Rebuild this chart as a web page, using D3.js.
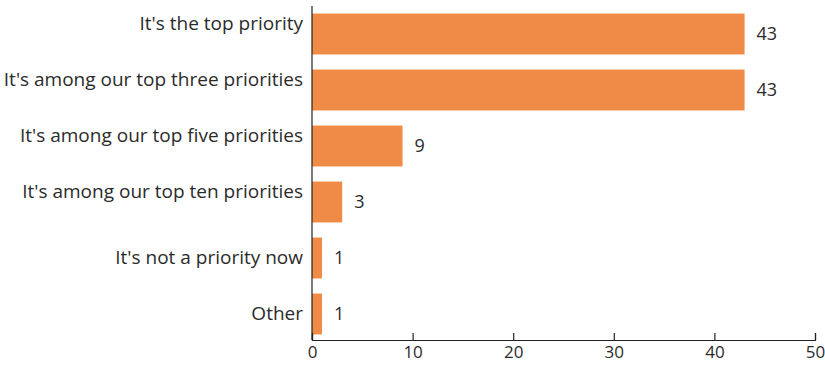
<!DOCTYPE html>
<html>
<head>
<meta charset="utf-8">
<script src="https://cdn.jsdelivr.net/npm/d3@7"></script>
<style>
  body { margin: 0; background: #fff; }
  text { font-family: "Open Sans", sans-serif; fill: #2b2b2b; }
</style>
</head>
<body>
<div id="chart"></div>
<script>
// data
const categories = [
  "It's the top priority",
  "It's among our top three priorities",
  "It's among our top five priorities",
  "It's among our top ten priorities",
  "It's not a priority now",
  "Other"
]
const values = [43, 43, 9, 3, 1, 1]
const ticks = [0, 10, 20, 30, 40, 50]

const width = 825
const height = 366
const margin = { top: 6, right: 10, bottom: 25, left: 312 }

const svg = d3.select("div#chart")
  .append("svg")
  .attr("width", width)
  .attr("height", height)

const x = d3.scaleLinear()
  .domain([0, 50])
  .range([margin.left, 815])
const y = d3.scaleBand()
  .domain(categories)
  .range([margin.top, 342])
  .paddingInner(0.27)
  .paddingOuter(0.135)

const baseY = 340

// bars
svg.append("g").selectAll("rect")
  .data(values)
  .join("rect")
  .attr("x", x(0))
  .attr("y", (d, i) => y(categories[i]))
  .attr("width", d => x(d) - x(0))
  .attr("height", y.bandwidth())
  .attr("fill", "#f08b47")

// value labels
svg.append("g").selectAll("text")
  .data(values)
  .join("text")
  .attr("x", d => x(d) + 12)
  .attr("y", (d, i) => y(categories[i]) + y.bandwidth() / 2)
  .attr("dy", "0.35em")
  .style("font-size", "18px")
  .text(d => d)

// category labels (the first four sit a bit higher than their bar)
svg.append("g").selectAll("text")
  .data(categories)
  .join("text")
  .attr("x", x(0) - 9)
  .attr("y", (d, i) => y(d) + y.bandwidth() / 2 - (i < 4 ? 11 : 1))
  .attr("dy", "0.35em")
  .attr("text-anchor", "end")
  .style("font-size", "19px")
  .text(d => d)

// left axis line
svg.append("line")
  .attr("x1", x(0)).attr("x2", x(0))
  .attr("y1", 6).attr("y2", baseY)
  .attr("stroke", "#222").attr("stroke-width", 1.2)

// bottom axis
const xAxis = d3.axisBottom(x).tickValues(ticks).tickSize(-7).tickPadding(6)
const xg = svg.append("g")
  .attr("transform", `translate(0,${baseY})`)
  .call(xAxis)
xg.select(".domain").attr("stroke", "#222").attr("stroke-width", 1.2)
xg.selectAll(".tick line").attr("stroke", "#222").attr("stroke-width", 1.2)
xg.selectAll(".tick text")
  .style("font-size", "17px")
  .style("font-family", "'Open Sans', sans-serif")
  .attr("fill", "#2b2b2b")
</script>
</body>
</html>
